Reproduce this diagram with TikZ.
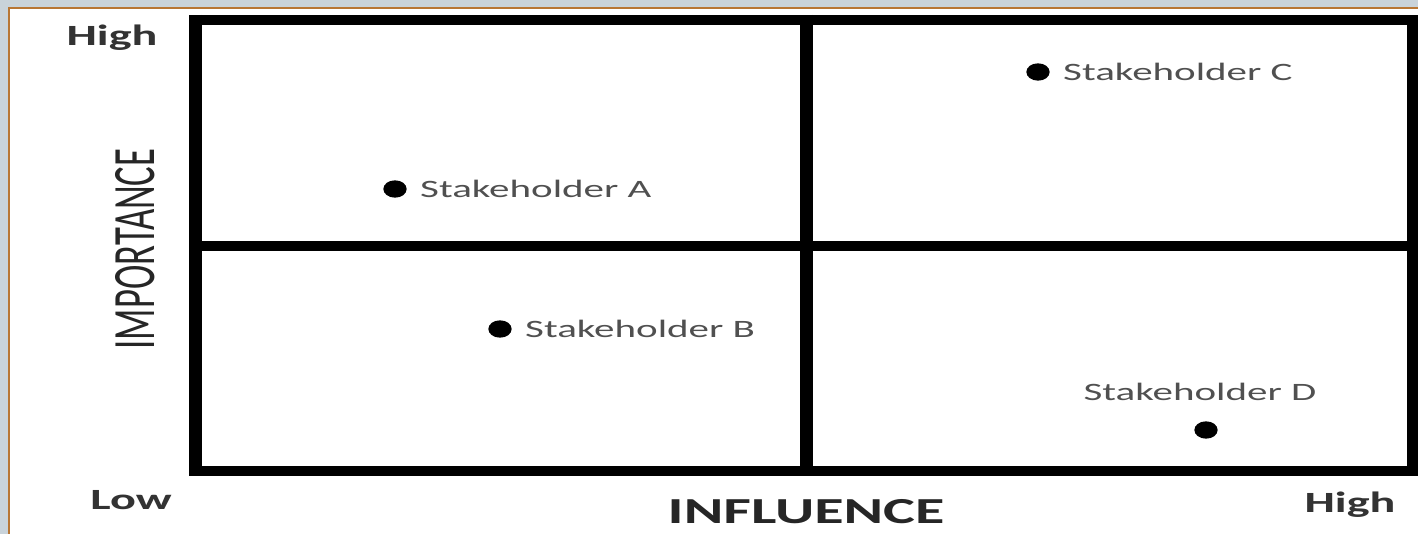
\documentclass[tikz,border=0pt]{standalone}
\usepackage{fontspec}
\usepackage{graphicx}
\usepackage[dvipsnames]{xcolor}
\setmainfont{Carlito}
\usetikzlibrary{positioning,shapes.geometric}

\definecolor{frameGray}{RGB}{201,211,218}
\definecolor{frameRule}{RGB}{184,118,52}
\definecolor{labelGray}{RGB}{80,80,80}
\newcommand{\wide}[1]{\scalebox{1.64}[1]{#1}}

\tikzset{
  hline/.style={line width=7.5pt},
  vline/.style={line width=9.75pt},
  dot/.style={ellipse,fill=black,inner sep=0pt,minimum width=17.5pt,minimum height=13pt},
  stake/.style={inner sep=0pt,text=labelGray,font=\fontsize{18.75}{22}\selectfont},
  axisend/.style={inner sep=0pt,text=black!80,font=\fontsize{22}{26}\selectfont\bfseries},
}

\begin{document}
\begin{tikzpicture}[x=0.75pt,y=0.75pt,yscale=-1,xscale=1]
            \useasboundingbox (0,0) rectangle (1418,534);
            \fill [frameGray] (0,0) rectangle (1418,534);
            \fill [white] (9,8) rectangle (1418,534);
            \draw [frameRule, line width=1.5pt] (9,534) -- (9,8) -- (1418,8);
            % grid
            \draw [hline] (190,20) -- (1418,20);
            \draw [hline] (190,471) -- (1418,471);
            \draw [hline] (195,246) -- (1413,246);
            \draw [vline] (195,15) -- (195,476);
            \draw [vline] (1413,15) -- (1413,476);
            \draw [vline] (806,15) -- (806,476);
            % stakeholders
            \node [dot] (dotA) at (395,189) {};
            \node [stake, right=13 of dotA] (labA) {\wide{Stakeholder A}};
            \node [dot] (dotB) at (500,329) {};
            \node [stake, right=13 of dotB] (labB) {\wide{Stakeholder B}};
            \node [dot] (dotC) at (1038,72) {};
            \node [stake, right=13 of dotC] (labC) {\wide{Stakeholder C}};
            \node [dot] (dotD) at (1206,430) {};
            \node [stake] (labD) at (1200,392) {\wide{Stakeholder D}};
            % axes
            \node [axisend] (hiY) at (112,38) {\wide{High}};
            \node [axisend] (loX) at (131,500) {\wide{Low}};
            \node [axisend] (hiX) at (1350,505) {\wide{High}};
            \node [inner sep=0pt, text=black!85, font=\fontsize{27.5}{32}\selectfont\bfseries] (infl) at (806,512) {\wide{INFLUENCE}};
            \node [inner sep=0pt, text=black!85, rotate=90, font=\fontsize{27.5}{32}\selectfont] (impo) at (135,249) {\scalebox{1}[1.64]{IMPORTANCE}};
        \end{tikzpicture}
\end{document}
